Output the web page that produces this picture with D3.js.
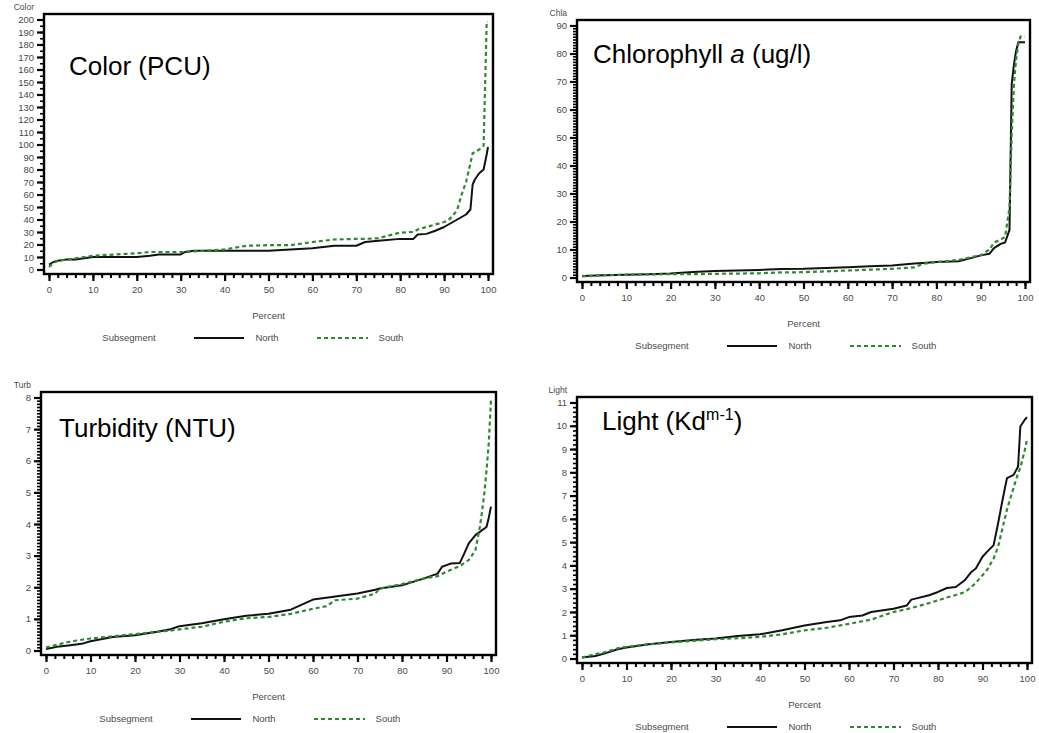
<!DOCTYPE html>
<html>
<head>
<meta charset="utf-8">
<script src="https://cdn.jsdelivr.net/npm/d3@7"></script>
<style>
  body { margin: 0; background: #fff; }
  svg { font-family: "Liberation Sans", Arial, sans-serif; }
  .tick text { fill: #4a4a4a; font-size: 9.5px; }
  .small { fill: #4a4a4a; font-size: 9.5px; }
</style>
</head>
<body>
<svg id="draw" width="1039" height="733"></svg>
<script>
// percentile grids and values
var colorPct   = [0,1,2,4,6,8,10,15,20,23,25,30,31,33,40,45,50,55,60,65,70,72,75,80,83,84,86,88,90,91,92,93,94,95,96,96.5,97,98,99,99.7,100];
var colorNorth = [4,6,7,8,8,9,10,10,10,11,12,12,14,15,15,15,15,16,17,19,19,22,23,24.5,24.5,28,28.5,31,34,36,38,40,42,44,48,68,72,77,80,92,98];
var colorSouth = [2,5,7,8,9,10,11,12,13,14,14,14,14,14.5,16,19,19.5,19.5,22,24,24.5,24.5,25,29.5,30,32,34,36,38,39.5,43,48,60,70,85,93,94,96,99,198,198];

var chlaPct   = [0,5,10,15,20,25,30,35,40,45,50,55,60,65,70,75,77,80,85,88,90,92,93,94.5,95.5,96.5,97,97.5,98,98.5,99,100];
var chlaNorth = [0.5,0.8,1,1.2,1.4,2,2.3,2.5,2.7,3,3.1,3.4,3.7,4,4.3,5,5.2,5.5,5.8,7,7.9,8.5,10.5,12,12.5,17,69,76,81,84,84,84];
var chlaSouth = [0.4,0.8,1,1.1,1.2,1.2,1.3,1.4,1.5,1.8,1.9,2.2,2.5,2.8,3.1,3.6,4.9,5.5,6.3,7.3,7.9,10,12.5,13.5,14.5,25,51,69,78,83.5,86,86];

var turbPct   = [0,3,5,8,10,15,20,25,28,30,35,40,45,50,55,60,63,65,70,74,75,80,85,88,89,90,91,93,94,95,96.5,97.5,98,98.5,99,99.5,100];
var turbNorth = [0.05,0.13,0.16,0.21,0.29,0.43,0.48,0.59,0.67,0.77,0.86,0.99,1.1,1.16,1.29,1.61,1.67,1.71,1.8,1.92,1.96,2.06,2.28,2.43,2.65,2.7,2.75,2.77,3.07,3.39,3.65,3.75,3.81,3.85,3.91,4.2,4.55];
var turbSouth = [0.09,0.2,0.27,0.34,0.38,0.45,0.52,0.59,0.63,0.67,0.75,0.91,1.02,1.06,1.16,1.32,1.4,1.59,1.64,1.8,1.96,2.1,2.28,2.35,2.42,2.49,2.55,2.67,2.77,2.86,3.17,3.91,4.4,4.97,5.7,6.56,7.94];

var lightPct   = [0,3,5,8,10,15,20,25,30,35,40,45,50,55,58,60,63,65,70,73,74,78,80,82,84,86,87.5,88.5,90,91,92.5,93.5,94.5,95.5,97,98,98.5,99.5,100];
var lightNorth = [0.04,0.11,0.21,0.4,0.47,0.61,0.71,0.79,0.86,0.97,1.04,1.21,1.42,1.57,1.64,1.78,1.85,2,2.14,2.28,2.53,2.72,2.86,3.03,3.07,3.36,3.72,3.87,4.37,4.58,4.87,5.8,6.81,7.75,7.89,8.25,9.97,10.26,10.37];
var lightSouth = [0.04,0.19,0.26,0.44,0.5,0.61,0.69,0.76,0.83,0.87,0.93,1.04,1.21,1.32,1.42,1.49,1.6,1.67,2,2.12,2.17,2.38,2.5,2.62,2.73,2.85,3.07,3.25,3.58,3.8,4.3,4.8,5.6,6.4,7.35,7.96,8.2,8.95,9.4];

var xMajor = d3.range(0, 101, 10);
var xMinor = d3.range(0, 101, 2);
var seriesNames = ["North", "South"];

// ---------------------------------------------------------------------------

var panels = [
  { pct: colorPct, north: colorNorth, south: colorSouth, yName: "Color", yMax: 200, yStep: 10, yMinor: 5,
    box: [44, 14, 493, 274], title: "Color (PCU)", tx: 25, ty: 61 },
  { pct: chlaPct, north: chlaNorth, south: chlaSouth, yName: "Chla", yMax: 90, yStep: 10, yMinor: 1,
    box: [577, 20, 1030, 282], title: "chla", tx: 16, ty: 43 },
  { pct: turbPct, north: turbNorth, south: turbSouth, yName: "Turb", yMax: 8, yStep: 1, yMinor: 0.1,
    box: [41, 392, 496, 655], title: "Turbidity (NTU)", tx: 18, ty: 45 },
  { pct: lightPct, north: lightNorth, south: lightSouth, yName: "Light", yMax: 11, yStep: 1, yMinor: 0.2,
    box: [577, 397, 1032, 663], title: "light", tx: 25, ty: 33 }
];

var svg = d3.select("#draw");

function blackTicks(a, w) {
  a.select(".domain").remove();
  a.selectAll(".tick line").attr("stroke", "#000").attr("stroke-width", w);
}

function drawPanel(p) {
  var L = p.box[0], T = p.box[1], R = p.box[2], B = p.box[3];
  var x = d3.scaleLinear().domain([0, 100]).range([L + 5, R - 5]);
  var y = d3.scaleLinear().domain([0, p.yMax]).range([B - 4.5, T + 5.5]);
  var g = svg.append("g");

  // frame
  g.append("rect").attr("x", L).attr("y", T).attr("width", R - L).attr("height", B - T)
    .attr("fill", "none").attr("stroke", "#000").attr("stroke-width", 2.4);

  // lines
  var line = d3.line().x(d => x(d[0])).y(d => y(d[1]));
  g.append("path").datum(p.pct.map((v, i) => [v, p.north[i]]))
    .attr("d", line).attr("fill", "none").attr("stroke", "#111").attr("stroke-width", 2)
    .attr("stroke-linejoin", "round");
  g.append("path").datum(p.pct.map((v, i) => [v, p.south[i]]))
    .attr("d", line).attr("fill", "none").attr("stroke", "#2f8a2f").attr("stroke-width", 2.2)
    .attr("stroke-dasharray", "4,3");

  // minor ticks
  var yMinorVals = d3.range(0, p.yMax + 1e-9, p.yMinor).map(v => +v.toFixed(3));
  g.append("g").attr("transform", `translate(${L},0)`)
    .call(d3.axisLeft(y).tickValues(yMinorVals).tickSize(4).tickFormat(() => ""))
    .call(a => blackTicks(a, 1.6));
  g.append("g").attr("transform", `translate(0,${B})`)
    .call(d3.axisBottom(x).tickValues(xMinor).tickSize(4).tickFormat(() => ""))
    .call(a => blackTicks(a, 2));

  // major ticks
  g.append("g").attr("transform", `translate(${L},0)`)
    .call(d3.axisLeft(y).tickValues(d3.range(0, p.yMax + 1e-9, p.yStep)).tickSize(7).tickPadding(3).tickFormat(d3.format("d")))
    .call(a => blackTicks(a, 2.2));
  g.append("g").attr("transform", `translate(0,${B})`)
    .call(d3.axisBottom(x).tickValues(xMajor).tickSize(7).tickPadding(5).tickFormat(d3.format("d")))
    .call(a => blackTicks(a, 2.2));

  // y name
  g.append("text").attr("class", "small").attr("x", L - 10).attr("y", y(p.yMax) - 12)
    .attr("text-anchor", "end").attr("dy", "0.35em").style("font-size", "8.5px").text(p.yName);

  // title
  var t = g.append("text").attr("x", L + p.tx).attr("y", T + p.ty)
    .style("font-size", "26px").attr("fill", "#000");
  if (p.title === "chla") {
    t.append("tspan").text("Chlorophyll ");
    t.append("tspan").style("font-style", "italic").text("a");
    t.append("tspan").text(" (ug/l)");
  } else if (p.title === "light") {
    t.append("tspan").text("Light (Kd");
    t.append("tspan").attr("dy", -10).style("font-size", "16px").text("m-1");
    t.append("tspan").attr("dy", 10).text(")");
  } else {
    t.text(p.title);
  }

  // x label
  g.append("text").attr("class", "small").attr("x", (L + R) / 2).attr("y", B + 42)
    .attr("text-anchor", "middle").attr("dy", "0.35em").text("Percent");

  // legend
  var ly = B + 64;
  g.append("text").attr("class", "small").attr("x", L + 85).attr("y", ly)
    .attr("text-anchor", "middle").attr("dy", "0.35em").text("Subsegment");
  g.append("line").attr("x1", L + 150).attr("x2", L + 200).attr("y1", ly).attr("y2", ly)
    .attr("stroke", "#111").attr("stroke-width", 2.2);
  g.append("text").attr("class", "small").attr("x", L + 223).attr("y", ly)
    .attr("text-anchor", "middle").attr("dy", "0.35em").text(seriesNames[0]);
  g.append("line").attr("x1", L + 273).attr("x2", L + 324).attr("y1", ly).attr("y2", ly)
    .attr("stroke", "#2f8a2f").attr("stroke-width", 2.2).attr("stroke-dasharray", "4,3");
  g.append("text").attr("class", "small").attr("x", L + 347).attr("y", ly)
    .attr("text-anchor", "middle").attr("dy", "0.35em").text(seriesNames[1]);
}

panels.forEach(drawPanel);
</script>
</body>
</html>
